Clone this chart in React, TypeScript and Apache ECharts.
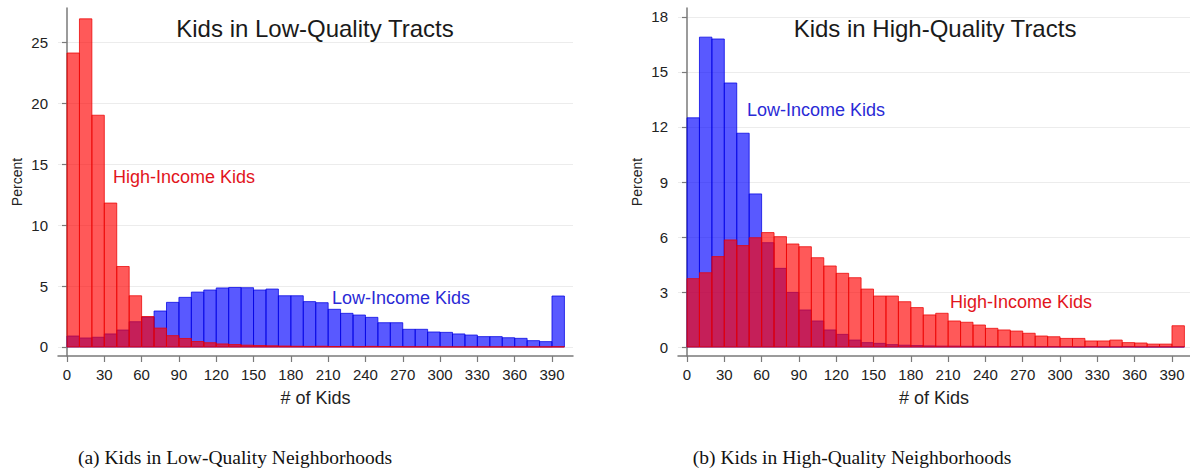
import React, { useEffect, useRef } from "react";
import * as echarts from "echarts";

// bin starts (width 10)
const binStarts = [0, 10, 20, 30, 40, 50, 60, 70, 80, 90, 100, 110, 120, 130, 140, 150, 160, 170, 180, 190,
  200, 210, 220, 230, 240, 250, 260, 270, 280, 290, 300, 310, 320, 330, 340, 350, 360, 370, 380, 390];
const binWidth = 10;

// Panel (a): Kids in Low-Quality Tracts
const lowQHigh = [24.1, 26.9, 19.0, 11.8, 6.6, 4.2, 2.5, 1.55, 0.93, 0.7, 0.45, 0.35, 0.25, 0.2, 0.15, 0.12, 0.1, 0.08, 0.06, 0.05,
  0.06, 0.04, 0.05, 0.03, 0.05, 0.04, 0.03, 0.02, 0.02, 0.02, 0.01, 0.01, 0.01, 0.01, 0.01, 0.01, 0.01, 0.01, 0.01, 0.02];
const lowQLow = [0.9, 0.74, 0.8, 1.07, 1.39, 2.07, 2.45, 2.95, 3.66, 4.07, 4.5, 4.67, 4.84, 4.88, 4.86, 4.67, 4.75, 4.2, 4.2, 3.72,
  3.63, 3.09, 2.76, 2.62, 2.43, 1.99, 1.99, 1.45, 1.45, 1.23, 1.2, 1.07, 0.98, 0.85, 0.85, 0.76, 0.71, 0.52, 0.44, 4.18];

// Panel (b): Kids in High-Quality Tracts
const highQLow = [12.5, 16.9, 16.8, 14.4, 11.66, 8.35, 5.69, 4.29, 2.98, 2.02, 1.42, 0.93, 0.69, 0.38, 0.24, 0.2, 0.13, 0.1, 0.08, 0.06,
  0.05, 0.05, 0.04, 0.04, 0.03, 0.03, 0.03, 0.03, 0.02, 0.02, 0.02, 0.01, 0.02, 0.01, 0.01, 0.02, 0.01, 0.01, 0.01, 0.01];
const highQHigh = [3.73, 4.05, 4.93, 5.84, 5.53, 5.96, 6.24, 6.02, 5.62, 5.47, 4.87, 4.42, 4.02, 3.78, 3.16, 2.78, 2.78, 2.47, 2.15, 1.75,
  1.84, 1.42, 1.35, 1.2, 1.02, 0.93, 0.87, 0.75, 0.6, 0.56, 0.47, 0.47, 0.33, 0.33, 0.38, 0.24, 0.22, 0.16, 0.16, 1.16];

const xTicks = [0, 30, 60, 90, 120, 150, 180, 210, 240, 270, 300, 330, 360, 390];
const yTicksA = [0, 5, 10, 15, 20, 25];
const yTicksB = [0, 3, 6, 9, 12, 15, 18];

const titles = ["Kids in Low-Quality Tracts", "Kids in High-Quality Tracts"];
const captions = ["(a) Kids in Low-Quality Neighborhoods", "(b) Kids in High-Quality Neighborhoods"];

const SANS = '"Liberation Sans", Arial, sans-serif';
const SERIF = '"Liberation Serif", serif';
const RED_FILL = "rgba(255,0,0,0.65)";
const RED_LINE = "rgba(235,0,0,0.75)";
const BLUE_FILL = "rgba(0,0,255,0.65)";
const BLUE_LINE = "rgba(0,0,225,0.75)";

function toData(vals: number[]) {
  return binStarts.map((s, i) => [s, s + binWidth, vals[i]]);
}

function histSeries(vals: number[], idx: number, fill: string, stroke: string) {
  return {
    type: "custom",
    xAxisIndex: idx,
    yAxisIndex: idx,
    data: toData(vals),
    encode: { x: [0, 1], y: 2 },
    renderItem: (params: any, api: any) => {
      const p0 = api.coord([api.value(0), 0]);
      const p1 = api.coord([api.value(1), api.value(2)]);
      return {
        type: "rect",
        shape: { x: p0[0], y: p1[1], width: p1[0] - p0[0], height: p0[1] - p1[1] },
        style: { fill, stroke, lineWidth: 1 },
      };
    },
  };
}

function xAxis(idx: number, min: number, max: number) {
  return {
    type: "value",
    gridIndex: idx,
    min,
    max,
    name: "# of Kids",
    nameLocation: "middle",
    nameGap: 33,
    nameTextStyle: { fontFamily: SANS, fontSize: 18, color: "#222" },
    axisLine: { show: true, onZero: false, lineStyle: { color: "#7a7a7a", width: 1.5 } },
    axisTick: { show: true, length: 6, customValues: xTicks, lineStyle: { color: "#7a7a7a", width: 1.2 } },
    axisLabel: { customValues: xTicks, margin: 11, fontFamily: SANS, fontSize: 15, color: "#222" },
    splitLine: { show: false },
  };
}

function yAxis(idx: number, min: number, max: number, ticks: number[]) {
  return {
    type: "value",
    gridIndex: idx,
    min,
    max,
    name: "Percent",
    nameLocation: "middle",
    nameGap: 34,
    nameRotate: 90,
    nameTextStyle: { fontFamily: SANS, fontSize: 14, color: "#222" },
    axisLine: { show: true, lineStyle: { color: "#7a7a7a", width: 1.5 } },
    axisTick: { show: true, length: 5, customValues: ticks, lineStyle: { color: "#7a7a7a", width: 1.2 } },
    axisLabel: { customValues: ticks, margin: 10, fontFamily: SANS, fontSize: 15, color: "#222" },
    splitLine: { show: true, lineStyle: { color: "#ececec", width: 1 } },
  };
}

function label(text: string, x: number, y: number, color: string, size: number) {
  return {
    type: "text",
    x,
    y,
    style: { text, fill: color, font: `${size}px ${SANS}`, textAlign: "left", textVerticalAlign: "middle" },
  };
}

function textTitle(text: string, left: number, top: number, family: string, size: number, color: string) {
  return {
    text,
    left,
    top,
    padding: 0,
    textAlign: "center",
    textStyle: { fontFamily: family, fontSize: size, lineHeight: size + 2, fontWeight: "normal", color },
  };
}

export default function App() {
  const ref = useRef<HTMLDivElement>(null);
  useEffect(() => {
    if (!ref.current) return;
    const chart = echarts.init(ref.current, null, { renderer: "svg" });
    chart.setOption({
      animation: false,
      backgroundColor: "#ffffff",
      grid: [
        { left: 58, top: 8, width: 515, height: 348, containLabel: false },
        { left: 678, top: 8, width: 512, height: 348, containLabel: false },
      ],
      xAxis: [xAxis(0, -7.24, 406.9), xAxis(1, -7.24, 404.5)],
      yAxis: [yAxis(0, -0.738, 27.79, yTicksA), yAxis(1, -0.49, 18.49, yTicksB)],
      series: [
        histSeries(lowQLow, 0, BLUE_FILL, BLUE_LINE),
        histSeries(lowQHigh, 0, RED_FILL, RED_LINE),
        histSeries(highQLow, 1, BLUE_FILL, BLUE_LINE),
        histSeries(highQHigh, 1, RED_FILL, RED_LINE),
      ],
      title: [
        textTitle(titles[0], 315, 15, SANS, 24, "#1a1a1a"),
        textTitle(titles[1], 935, 15, SANS, 24, "#1a1a1a"),
        textTitle(captions[0], 235, 447, SERIF, 19.5, "#111"),
        textTitle(captions[1], 852, 447, SERIF, 19.5, "#111"),
      ],
      graphic: [
        label("High-Income Kids", 113, 177, "#e2141c", 18),
        label("Low-Income Kids", 332, 298, "#2a2ad6", 18),
        label("Low-Income Kids", 747, 110, "#2a2ad6", 18),
        label("High-Income Kids", 950, 302, "#e2141c", 18),
      ],
    });
    return () => chart.dispose();
  }, []);
  return (
    <div
      ref={ref}
      style={{ position: "absolute", left: 0, top: 0, width: 1190, height: 468 }}
    />
  );
}
